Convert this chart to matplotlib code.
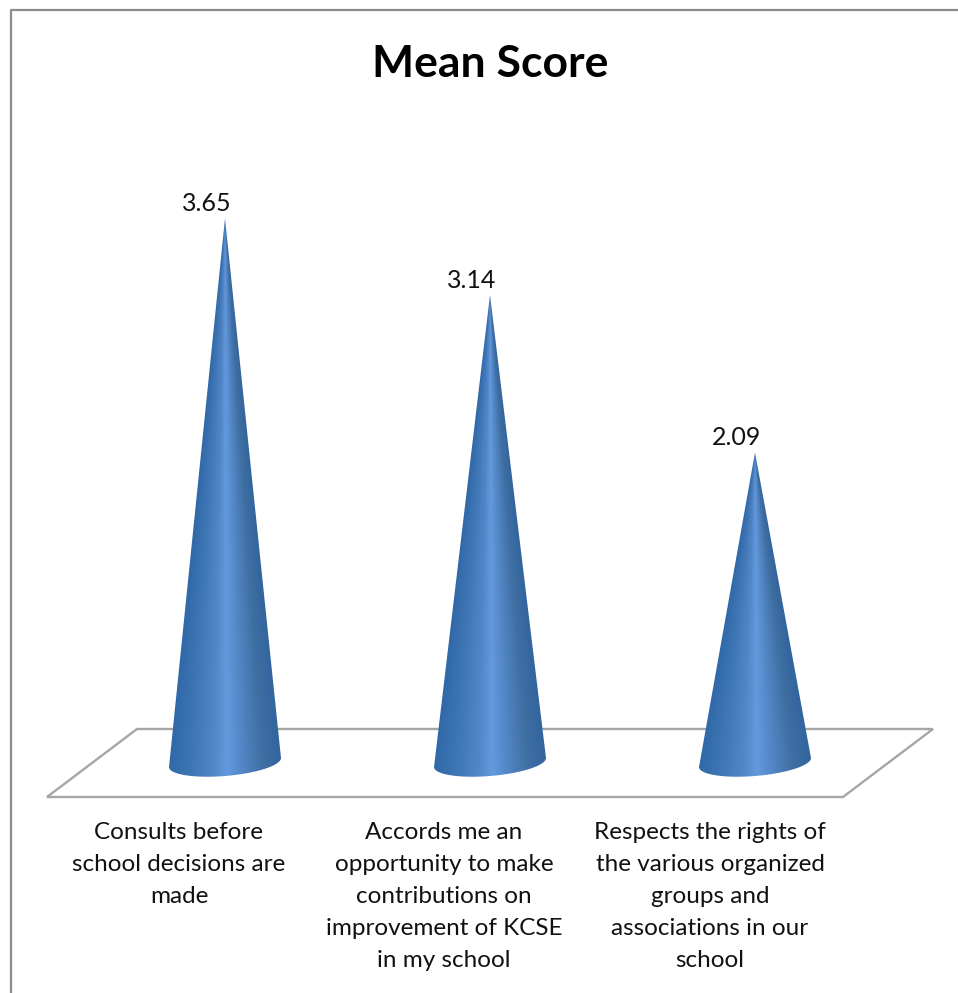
import numpy as np
import matplotlib
matplotlib.use("Agg")
import matplotlib.pyplot as plt
from matplotlib.colors import LinearSegmentedColormap
from matplotlib.patches import Polygon
from matplotlib.lines import Line2D

categories = [
    "Consults before\nschool decisions are\nmade",
    "Accords me an\nopportunity to make\ncontributions on\nimprovement of KCSE\nin my school",
    "Respects the rights of\nthe various organized\ngroups and\nassociations in our\nschool",
]
values = [3.65, 3.14, 2.09]
title = "Mean Score"

W, H = 958, 993
PX_X = 265.0   # pixels per category
PX_Y = 150.0   # pixels per unit
X0, Y0 = 225.0, 766.0

plt.rcParams["font.family"] = ["Lato", "DejaVu Sans"]
fig = plt.figure(figsize=(W / 100, H / 100), dpi=100, facecolor="white")
ax = fig.add_axes([0, 0, 1, 1])
xlim = (-X0 / PX_X, (W - X0) / PX_X)
ylim = ((Y0 - H) / PX_Y, Y0 / PX_Y)
ax.axis("off")

def px(x, y):
    return (x / W, 1 - y / H)

# chart frame
xy = [px(*p) for p in [(11, 993), (11, 10), (958, 10)]]
fig.add_artist(Line2D([p[0] for p in xy], [p[1] for p in xy], color="#8c8c8c", lw=1.6))

# floor
floor = [px(*p) for p in [(137, 729), (933, 729), (843, 797), (47, 797)]]
ax.add_patch(Polygon(floor, closed=True, transform=ax.transAxes, fill=False,
                     edgecolor="#a6a6a6", lw=1.7, zorder=1))

cmap = LinearSegmentedColormap.from_list("cone", [
    (0.00, "#3169a8"), (0.20, "#3f76b6"), (0.40, "#5286c8"), (0.52, "#639ade"),
    (0.64, "#5488c8"), (0.84, "#3f6fa2"), (1.00, "#33659f"),
])
half_w = 56 / PX_X
t = np.linspace(0, np.pi, 60)
for i, v in enumerate(values):
    base_x = i + np.cos(t) * half_w
    base_y = (3.5 + np.cos(t) * 4.5 - np.sin(t) * 13.5) / PX_Y
    verts = [(i, v)] + list(zip(base_x, base_y))
    cone = Polygon(verts, closed=True, transform=ax.transData, facecolor="none", edgecolor="none")
    ax.add_patch(cone)
    # shading follows the cone's narrowing width from base to apex
    low = base_y.min()
    ys = np.linspace(v, low, 500)
    xs = np.linspace(-1, 1, 300)
    widths = np.clip((v - ys) / v, 1e-3, None)
    shade = np.clip((xs[None, :] / widths[:, None] + 1) / 2, 0, 1)
    im = ax.imshow(shade, extent=(i - half_w, i + half_w, low, v), aspect="auto",
                   cmap=cmap, vmin=0, vmax=1, zorder=2, interpolation="bilinear")
    im.set_clip_path(cone)
    ax.text(i - 18.5 / PX_X, v + 15 / PX_Y, f"{v:.2f}", ha="center", va="center",
            fontsize=18.0, color="#111111", zorder=3)
    ax.text(i - 46 / PX_X + (1 / PX_X if i == 2 else 0), -(822 - Y0) / PX_Y, categories[i],
            ha="center", va="top", fontsize=17.5, color="#111111", linespacing=1.65, zorder=3)

ax.set_xlim(*xlim)
ax.set_ylim(*ylim)
fig.text(490 / W, 1 - 64 / H, title, ha="center", va="center", fontsize=32,
         fontweight="bold", color="black")
fig.savefig("out.png", dpi=100, facecolor="white")
